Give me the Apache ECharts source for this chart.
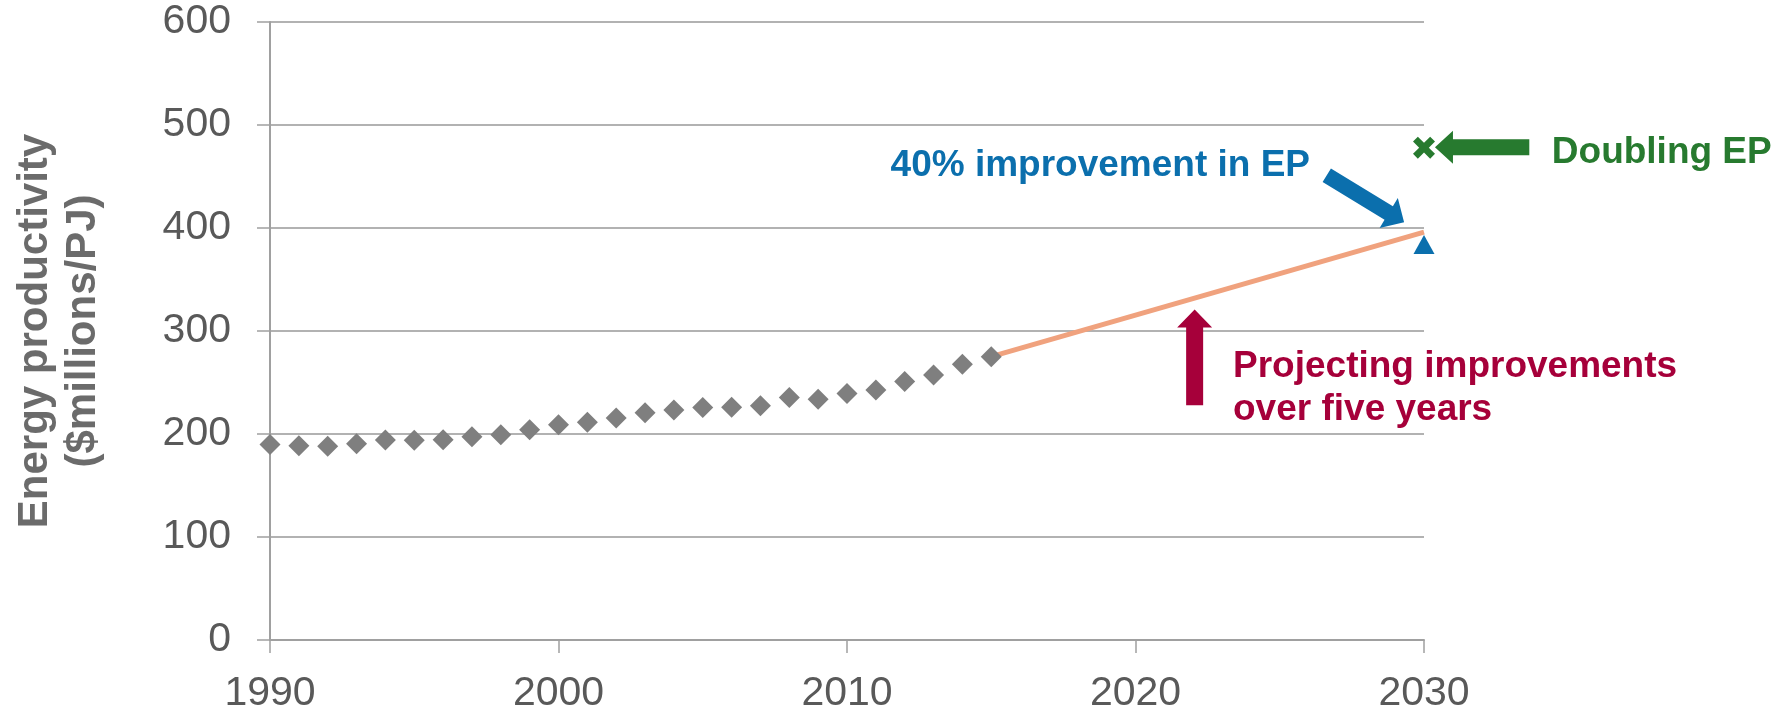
<!DOCTYPE html>
<html>
<head>
<meta charset="utf-8">
<script src="https://cdn.jsdelivr.net/npm/echarts@6/dist/echarts.min.js"></script>
<style>
html,body{margin:0;padding:0;background:#fff;}
#chart{width:1785px;height:714px;}
</style>
</head>
<body>
<div id="chart"></div>
<script>
// ---- data ----
const years = [1990,1991,1992,1993,1994,1995,1996,1997,1998,1999,2000,2001,2002,2003,2004,2005,2006,2007,2008,2009,2010,2011,2012,2013,2014,2015];
const productivity = [189.7,188.7,188.0,190.6,194.2,193.9,194.5,197.4,199.3,204.2,209.0,211.3,215.5,220.6,223.2,225.8,226.0,227.4,235.4,233.8,239.3,242.8,250.9,257.3,267.6,275.1];
const projectionYears = [2015, 2030];
const projectionValues = [275.1, 396];
const improvement40Point = [2030, 384];
const doublingPoint = [2030, 478];
const yTickValues = [0,100,200,300,400,500,600];
const xTickValues = [1990,2000,2010,2020,2030];
const yAxisTitle = 'Energy productivity\n($millions/PJ)';
const label40 = '40% improvement in EP';
const labelDoubling = 'Doubling EP';
const labelProjecting = 'Projecting improvements\nover five years';

const FONT = '"Liberation Sans", Arial, Helvetica, sans-serif';
const GRAY_TXT = '#595959';
const BLUE = '#0b6fad';
const GREEN = '#277a2f';
const RED = '#a6003a';

const chart = echarts.init(document.getElementById('chart'), null, {renderer:'canvas'});

chart.setOption({
  animation: false,
  backgroundColor: '#ffffff',
  grid: {left: 270, right: 361, top: 22, bottom: 71, containLabel: false},
  xAxis: {
    type: 'value', min: xTickValues[0], max: xTickValues[xTickValues.length-1], interval: 10,
    axisLine: {show: true, lineStyle: {color: '#a0a0a0', width: 2}},
    axisTick: {show: true, length: 13, lineStyle: {color: '#a0a0a0', width: 1.5}},
    axisLabel: {color: GRAY_TXT, fontSize: 41, fontFamily: FONT, margin: 33, formatter: v => String(v)},
    splitLine: {show: false}
  },
  yAxis: {
    type: 'value', min: yTickValues[0], max: yTickValues[yTickValues.length-1], interval: 100,
    name: yAxisTitle, nameLocation: 'middle', nameRotate: 90, nameGap: 163,
    nameTextStyle: {fontSize: 42, fontWeight: 'bold', color: '#6b6b6b', fontFamily: FONT, lineHeight: 48, align: 'center'},
    axisLine: {show: true, lineStyle: {color: '#a0a0a0', width: 2}},
    axisTick: {show: true, length: 13, lineStyle: {color: '#a0a0a0', width: 1.5}},
    axisLabel: {color: GRAY_TXT, fontSize: 41, fontFamily: FONT, margin: 39},
    splitLine: {show: true, lineStyle: {color: '#b2b2b2', width: 2}}
  },
  series: [
    {
      type: 'line', name: 'projection',
      data: projectionYears.map((y,i)=>[y, projectionValues[i]]),
      symbol: 'none', lineStyle: {color: '#f0a27e', width: 5}, z: 2
    },
    {
      type: 'scatter', name: 'historical',
      data: years.map((y,i)=>[y, productivity[i]]),
      symbol: 'diamond', symbolSize: 21, itemStyle: {color: '#7f7f7f', opacity: 1}, z: 3
    },
    {
      type: 'scatter', name: '40%',
      data: [improvement40Point],
      symbol: 'triangle', symbolSize: [21, 19], itemStyle: {color: BLUE, opacity: 1}, z: 3
    },
    {
      type: 'scatter', name: 'doubling',
      data: [doublingPoint],
      symbol: 'path://M2.2,0 L5,2.8 L7.8,0 L10,2.2 L7.2,5 L10,7.8 L7.8,10 L5,7.2 L2.2,10 L0,7.8 L2.8,5 L0,2.2 Z',
      symbolSize: 22, itemStyle: {color: GREEN, opacity: 1}, z: 3
    }
  ]
});

// ---- annotations (anchored to data coordinates) ----
function px(p){ return chart.convertToPixel({gridIndex:0}, p); }
function arrowPoints(tail, tip, shaftW, headW, headL){
  const a = px(tail), b = px(tip);
  const dx = b[0]-a[0], dy = b[1]-a[1];
  const len = Math.sqrt(dx*dx+dy*dy);
  const ux = dx/len, uy = dy/len, nx = -uy, ny = ux;
  const bx = b[0]-ux*headL, by = b[1]-uy*headL;
  const s = shaftW/2, h = headW/2;
  return [
    [a[0]+nx*s, a[1]+ny*s],
    [bx+nx*s, by+ny*s],
    [bx+nx*h, by+ny*h],
    [b[0], b[1]],
    [bx-nx*h, by-ny*h],
    [bx-nx*s, by-ny*s],
    [a[0]-nx*s, a[1]-ny*s]
  ];
}
const arrows = [
  {tail:[2026.63,451.2], tip:[2029.31,405.5], shaft:16, head:35, headLen:18, color:BLUE},
  {tail:[2033.65,478.3], tip:[2030.38,478.3], shaft:16, head:33, headLen:18, color:GREEN},
  {tail:[2022.05,228.0], tip:[2022.05,320.8], shaft:17, head:35, headLen:18, color:RED}
];
const texts = [
  {text:label40, at:[2011.51,460.2], color:BLUE, size:37, lh:43},
  {text:labelDoubling, at:[2034.43,472.7], color:GREEN, size:37, lh:43},
  {text:labelProjecting, at:[2023.38,244.4], color:RED, size:37, lh:43}
];
const graphics = [];
arrows.forEach(a=>{
  graphics.push({type:'polygon', shape:{points: arrowPoints(a.tail,a.tip,a.shaft,a.head,a.headLen)}, style:{fill:a.color}, z:10});
});
texts.forEach(t=>{
  const p = px(t.at);
  graphics.push({type:'text', x:p[0], y:p[1], style:{text:t.text, fill:t.color, font:'bold '+t.size+'px '+FONT, align:'left', verticalAlign:'middle', lineHeight:t.lh}, z:10});
});
chart.setOption({graphic: graphics});
</script>
</body>
</html>
